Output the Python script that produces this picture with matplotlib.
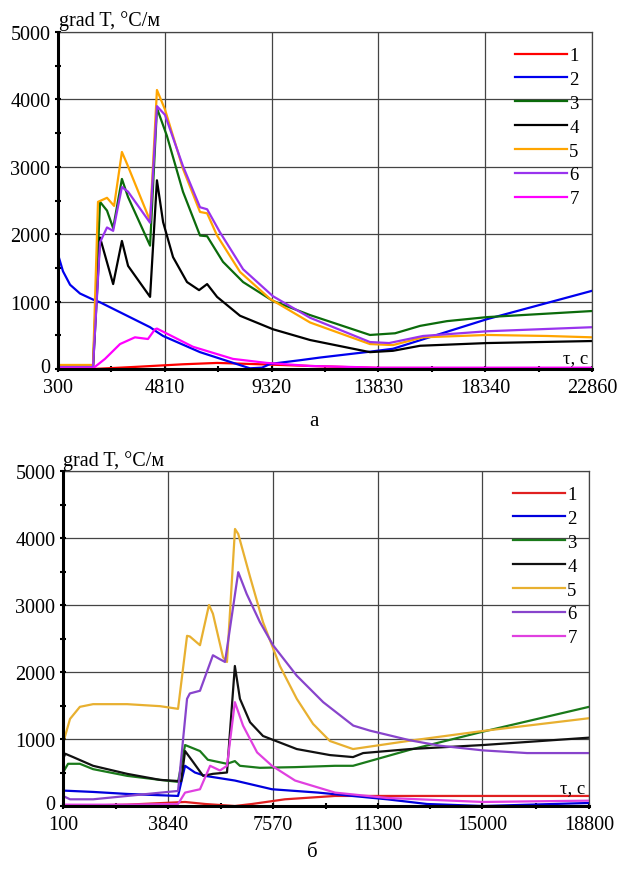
import matplotlib.pyplot as plt
from matplotlib.ticker import FixedLocator, MultipleLocator
from matplotlib.transforms import ScaledTranslation

plt.rcParams['font.family'] = ['Liberation Serif', 'DejaVu Serif']

# ---- панель а ----
a_xticks = [300, 4810, 9320, 13830, 18340, 22860]

a1_t = [300, 1780, 3500, 5580, 7020, 8410, 10950, 13830, 22860]
a1_g = [0, 0, 30, 70, 90, 75, 45, 15, 10]

a2_t = [300, 510, 810, 1230, 1780, 2075, 4190, 4480, 4740, 6300, 8410, 8920, 9260,
        10520, 11370, 13480, 14450, 18430, 22860]
a2_g = [1700, 1450, 1250, 1120, 1030, 990, 620, 550, 490, 250, 10, 20, 75,
        130, 170, 257, 300, 740, 1160]

a3_t = [300, 1780, 2075, 2370, 2630, 3000, 3260, 4190, 4480, 4900, 5580, 6300, 6600,
        7270, 8120, 9380, 10950, 13480, 14540, 15600, 16730, 18430, 22860]
a3_g = [40, 40, 2480, 2350, 2090, 2820, 2550, 1830, 3870, 3460, 2630, 1980, 1970,
        1590, 1290, 1010, 800, 505, 530, 640, 710, 770, 860]

a4_t = [300, 1780, 2075, 2630, 3000, 3260, 4190, 4480, 4740, 5160, 5750, 6260, 6600,
        7020, 7990, 9380, 10950, 13480, 14450, 15600, 18430, 22860]
a4_g = [30, 30, 1950, 1260, 1900, 1530, 1070, 2800, 2180, 1660, 1290, 1170, 1260,
        1070, 790, 590, 430, 250, 270, 345, 385, 415]

a5_t = [300, 1780, 1990, 2370, 2670, 3000, 3220, 4190, 4480, 4820, 5580, 6300, 6600,
        7020, 7990, 9260, 10950, 13480, 14450, 15720, 18430, 20960, 22860]
a5_g = [60, 60, 2480, 2540, 2420, 3220, 3040, 2200, 4140, 3850, 2970, 2330, 2310,
        1980, 1440, 1040, 690, 370, 355, 470, 505, 490, 470]

a6_t = [300, 1780, 2075, 2370, 2630, 3000, 3260, 4190, 4480, 4820, 5580, 6300, 6600,
        7140, 8120, 9380, 10950, 13480, 14290, 15720, 18430, 22860]
a6_g = [30, 30, 1880, 2100, 2050, 2700, 2630, 2170, 3900, 3770, 3010, 2400, 2370,
        2030, 1480, 1080, 760, 400, 385, 490, 560, 620]

a7_t = [300, 1780, 2285, 2920, 3550, 4100, 4400, 4480, 6000, 7690, 9130, 10950, 13830, 22860]
a7_g = [10, 10, 150, 370, 470, 445, 590, 600, 330, 150, 90, 45, 20, 20]

# ---- панель б ----
b_xticks = [100, 3840, 7570, 11300, 15000, 18800]

b1_t = [100, 2380, 4440, 5150, 6210, 6820, 7990, 9770, 18800]
b1_g = [0, 20, 60, 30, 0, 30, 100, 150, 150]

b2_t = [100, 1170, 2380, 4190, 4440, 4790, 5150, 6210, 7530, 9170, 11620, 13040, 15030, 18800]
b2_g = [230, 210, 180, 150, 600, 500, 450, 380, 250, 200, 100, 30, 0, 45]

b3_t = [100, 280, 700, 1170, 2380, 3550, 4190, 4440, 4970, 5250, 5930, 6210, 6390,
        7100, 8350, 9770, 10410, 12440, 15030, 18800]
b3_g = [500, 630, 630, 550, 450, 390, 360, 910, 820, 690, 630, 670, 600,
        570, 580, 600, 600, 840, 1110, 1480]

b4_t = [100, 180, 460, 1170, 2380, 3550, 4300, 4440, 4720, 5080, 5430, 5930, 6210,
        6390, 6750, 7210, 8410, 9590, 10410, 10770, 12440, 15030, 18800]
b4_g = [700, 780, 730, 600, 480, 390, 370, 820, 660, 450, 480, 500, 2090,
        1600, 1250, 1045, 850, 760, 730, 790, 850, 910, 1020]

b5_t = [100, 110, 350, 700, 1170, 2380, 3550, 4190, 4510, 4610, 4970, 5290, 5430,
        5790, 5930, 6215, 6330, 6750, 7210, 7810, 8410, 8990, 9590, 10410, 12440,
        15030, 18800]
b5_g = [780, 950, 1300, 1480, 1520, 1520, 1490, 1450, 2540, 2530, 2400, 3000, 2870,
        2220, 2150, 4135, 4060, 3420, 2745, 2090, 1600, 1225, 970, 850, 975,
        1120, 1310]

b6_t = [100, 350, 1170, 2380, 4190, 4510, 4610, 4970, 5430, 5680, 5860, 6330, 6630,
        7100, 7575, 8410, 9350, 10420, 11010, 12440, 13500, 15030, 16600, 18800]
b6_g = [150, 100, 100, 150, 225, 1600, 1680, 1720, 2250, 2190, 2150, 3490, 3165,
        2745, 2395, 1945, 1550, 1200, 1125, 980, 900, 830, 790, 790]

b7_t = [100, 2380, 4190, 4440, 4970, 5330, 5680, 5930, 6210, 6500, 7000, 7530, 8350,
        9770, 11620, 15030, 18800]
b7_g = [20, 20, 30, 200, 250, 600, 530, 600, 1550, 1200, 800, 600, 380,
        200, 120, 60, 80]

names = ['1', '2', '3', '4', '5', '6', '7']
colors_a = ['#ff0000', '#0000ee', '#0b6b0b', '#000000', '#ffa500', '#9933ee', '#ff00ff']
colors_b = ['#e02020', '#0000dd', '#1a7a1a', '#111111', '#e8b030', '#8844cc', '#e040e0']


def panel(fig, rect, curves, colors, xticks, leg_xy, tau_xy, ylab_xy):
    ax = fig.add_axes(rect)
    for (t, g), c, n in zip(curves, colors, names):
        ax.plot(t, g, color=c, lw=1.6, label=n)
    ax.set_xlim(xticks[0], xticks[-1])
    ax.set_ylim(0, 5000)
    ax.xaxis.set_major_locator(FixedLocator(xticks))
    mids = [(xticks[i] + xticks[i + 1]) / 2 for i in range(len(xticks) - 1)]
    ax.xaxis.set_minor_locator(FixedLocator(mids))
    ax.yaxis.set_major_locator(FixedLocator([0, 1000, 2000, 3000, 4000, 5000]))
    ax.yaxis.set_minor_locator(MultipleLocator(500))
    ax.grid(True, which='major', color='#444444', lw=0.9)
    ax.tick_params(which='both', direction='inout', length=5, width=1.5, labelsize=14.5)
    ax.tick_params(axis='y', pad=3)
    ax.tick_params(axis='x', pad=4)
    for s in ['left', 'bottom']:
        ax.spines[s].set_linewidth(2.2)
        ax.spines[s].set_zorder(5)
    for s in ['top', 'right']:
        ax.spines[s].set_linewidth(0.9)
        ax.spines[s].set_color('#444444')
    ax.legend(loc='upper left', bbox_to_anchor=leg_xy, bbox_transform=fig.transFigure,
              frameon=False, fontsize=13.5, handlelength=2.75, handletextpad=0.15,
              labelspacing=0.36, borderpad=0, borderaxespad=0)
    fig.text(tau_xy[0] / 620, 1 - tau_xy[1] / 870, 'τ, с', ha='right', va='baseline',
             fontsize=13.5)
    fig.text(ylab_xy[0] / 620, 1 - ylab_xy[1] / 870, 'grad T, °C/м', ha='left',
             va='baseline', fontsize=14.5)
    return ax


fig = plt.figure(figsize=(6.2, 8.7), dpi=100)

ax_a = panel(fig, [58 / 620, 1 - 370 / 870, 534 / 620, 337 / 870],
             list(zip([a1_t, a2_t, a3_t, a4_t, a5_t, a6_t, a7_t],
                      [a1_g, a2_g, a3_g, a4_g, a5_g, a6_g, a7_g])),
             colors_a, a_xticks, (515 / 620, 1 - 48 / 870), (588, 363), (59, 26))

ax_b = panel(fig, [63 / 620, 1 - 807 / 870, 526 / 620, 335 / 870],
             list(zip([b1_t, b2_t, b3_t, b4_t, b5_t, b6_t, b7_t],
                      [b1_g, b2_g, b3_g, b4_g, b5_g, b6_g, b7_g])),
             colors_b, b_xticks, (513 / 620, 1 - 487 / 870), (585, 793), (63, 466))

fig.text(314 / 620, 1 - 422 / 870, 'а', ha='center', va='center', fontsize=15)
fig.text(312 / 620, 1 - 853 / 870, 'б', ha='center', va='center', fontsize=15)

# подпись "0" чуть выше, чтобы не наезжала на первую подпись оси времени
fig.canvas.draw()
for ax in (ax_a, ax_b):
    lab = ax.yaxis.get_major_ticks()[0].label1
    lab.set_transform(lab.get_transform() + ScaledTranslation(0, 3 / 72, fig.dpi_scale_trans))

fig.savefig('out.png', dpi=100)
